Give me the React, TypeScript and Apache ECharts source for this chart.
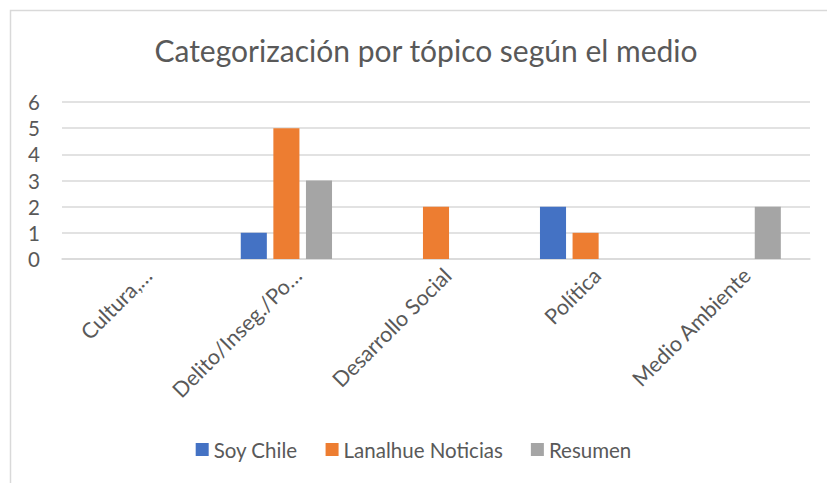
import React, { useEffect, useRef } from "react";
import * as echarts from "echarts";

const categories = ["Cultura,…", "Delito/Inseg./Po…", "Desarrollo Social", "Política", "Medio Ambiente"];
const soyChile = [0, 1, 0, 2, 0];
const lanalhue = [0, 5, 2, 1, 0];
const resumen = [0, 3, 0, 0, 2];
const yTicks = [0, 1, 2, 3, 4, 5, 6];

const FONT = "Lato";
const TEXT = "#595959";

export default function App() {
  const ref = useRef<HTMLDivElement>(null);
  useEffect(() => {
    document.body.style.margin = "0";
    const chart = echarts.init(ref.current!, null, { renderer: "svg" });
    chart.setOption({
      animation: false,
      backgroundColor: "#ffffff",
      textStyle: { fontFamily: FONT },
      title: {
        text: "Categorización por tópico según el medio",
        left: 421,
        top: 30,
        textAlign: "center",
        textStyle: { fontFamily: FONT, fontSize: 30, fontWeight: "normal", color: TEXT },
      },
      graphic: [
        {
          type: "rect",
          shape: { x: 10.5, y: 10.5, width: 900, height: 600 },
          style: { fill: "none", stroke: "#d9d9d9", lineWidth: 1.5 },
          silent: true,
        },
      ],
      legend: {
        bottom: 18,
        left: "center",
        itemWidth: 13,
        itemHeight: 13,
        itemGap: 28,
        icon: "rect",
        textStyle: { fontFamily: FONT, fontSize: 20.5, color: TEXT },
        data: ["Soy Chile", "Lanalhue Noticias", "Resumen"],
      },
      grid: { left: 62, right: 17, top: 102, bottom: 224, outerBoundsMode: "none", containLabel: false },
      xAxis: {
        type: "category",
        data: categories,
        axisLine: { lineStyle: { color: "#d9d9d9", width: 1.5 } },
        axisTick: { show: false },
        axisLabel: { rotate: 45, margin: 24, fontFamily: FONT, fontSize: 21.5, color: TEXT, interval: 0, padding: [0, -16, 0, 0] },
      },
      yAxis: {
        type: "value",
        min: yTicks[0],
        max: yTicks[yTicks.length - 1],
        interval: 1,
        axisLine: { show: false },
        axisTick: { show: false },
        splitLine: { lineStyle: { color: "#d9d9d9", width: 1.5 } },
        axisLabel: { margin: 22, fontFamily: FONT, fontSize: 20.5, color: TEXT },
      },
      series: [
        { name: "Soy Chile", type: "bar", data: soyChile, itemStyle: { color: "#4472C4" }, barGap: "25%", barCategoryGap: "39%" },
        { name: "Lanalhue Noticias", type: "bar", data: lanalhue, itemStyle: { color: "#ED7D31" }, barGap: "25%", barCategoryGap: "39%" },
        { name: "Resumen", type: "bar", data: resumen, itemStyle: { color: "#A5A5A5" }, barGap: "25%", barCategoryGap: "39%" },
      ],
    });
    return () => chart.dispose();
  }, []);
  return <div ref={ref} style={{ width: 827, height: 483 }} />;
}
